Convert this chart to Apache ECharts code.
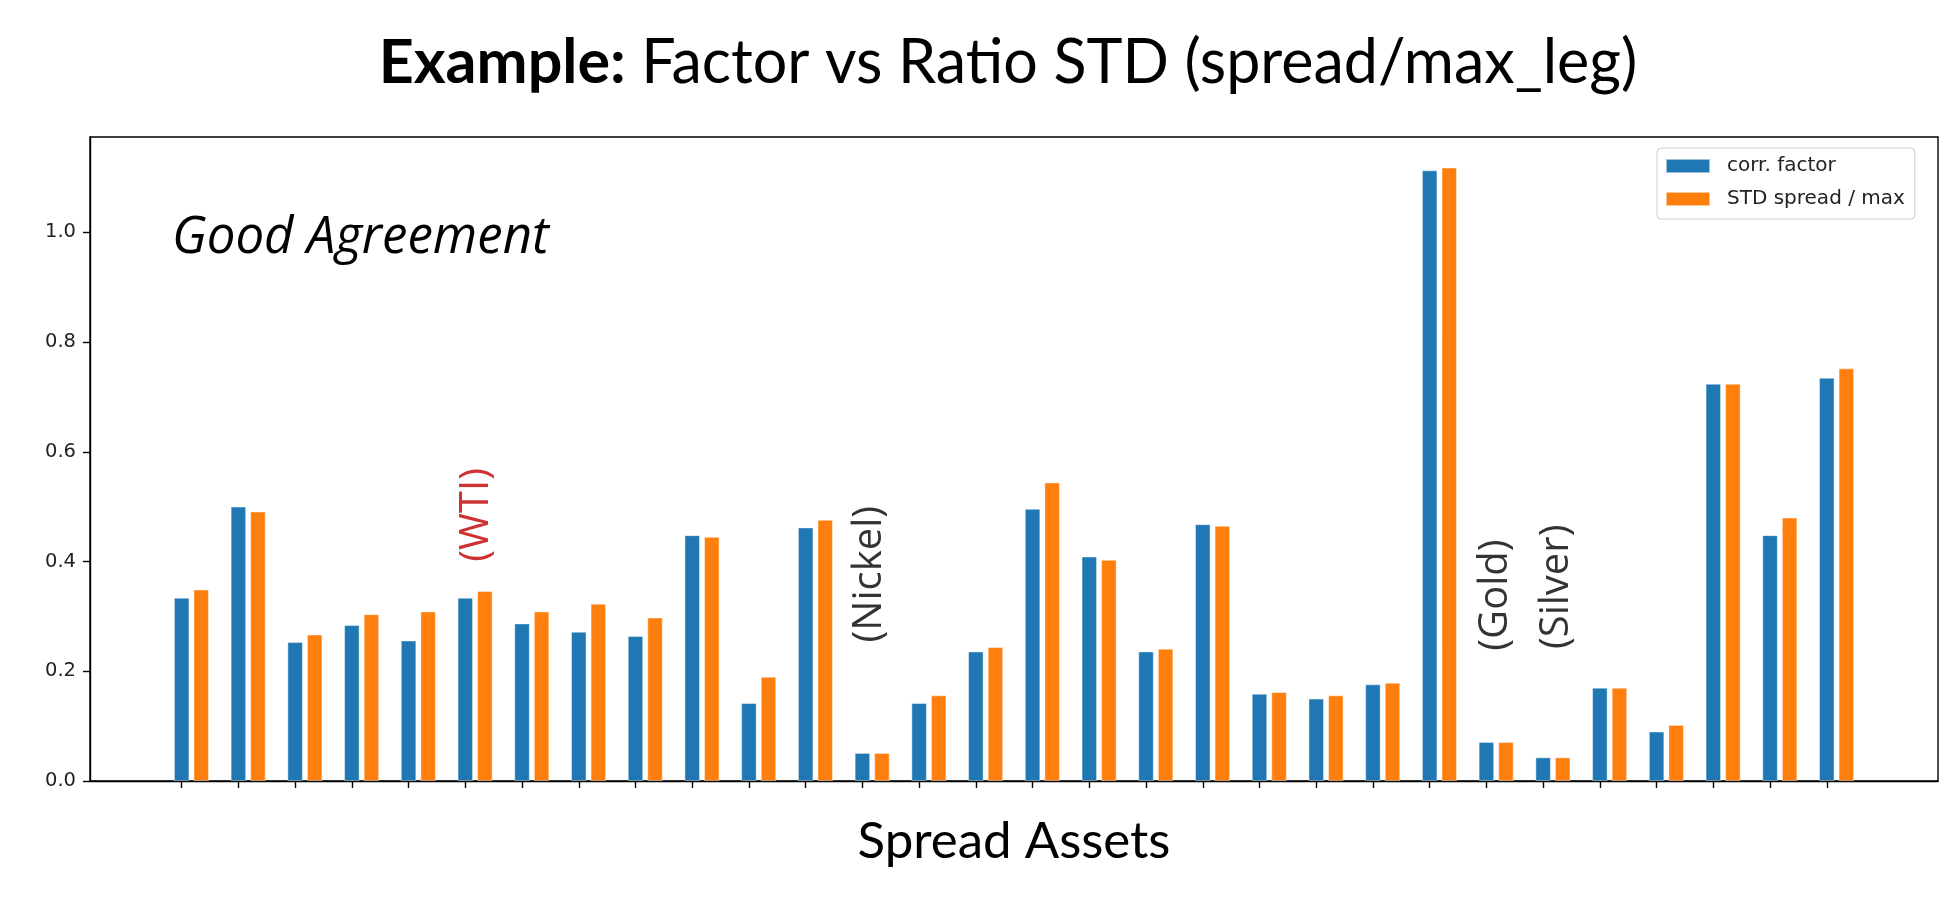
<!DOCTYPE html>
<html>
<head>
<meta charset="utf-8">
<script src="https://cdn.jsdelivr.net/npm/echarts@6/dist/echarts.min.js"></script>
<style>
html,body{margin:0;padding:0;background:#fff;}
#c{width:1955px;height:903px;}
</style>
</head>
<body>
<div id="c"></div>
<script>
// ---- data ----
const seriesNames = ['corr. factor', 'STD spread / max'];
const corrFactor = [0.334, 0.500, 0.253, 0.284, 0.256, 0.334, 0.287, 0.272, 0.264, 0.448,
                    0.142, 0.462, 0.051, 0.142, 0.236, 0.496, 0.409, 0.236, 0.468, 0.159,
                    0.150, 0.176, 1.113, 0.071, 0.043, 0.170, 0.090, 0.724, 0.448, 0.735];
const stdSpread  = [0.349, 0.491, 0.267, 0.304, 0.309, 0.346, 0.309, 0.323, 0.298, 0.445,
                    0.190, 0.476, 0.051, 0.156, 0.244, 0.544, 0.403, 0.241, 0.465, 0.162,
                    0.156, 0.179, 1.118, 0.071, 0.043, 0.170, 0.102, 0.724, 0.480, 0.752];
const yTicks = [0, 0.2, 0.4, 0.6, 0.8, 1.0];
const notes = [
  {text: '(WTI)',    x: 5.2,   y: 0.485, color: '#c00000'},
  {text: '(Nickel)', x: 12.12, y: 0.377, color: '#000000'},
  {text: '(Gold)',   x: 23.16, y: 0.339, color: '#000000'},
  {text: '(Silver)', x: 24.23, y: 0.354, color: '#000000'}
];
const titleBold = 'Example:';
const titleRest = 'Factor vs Ratio STD (spread/max_leg)';
const xName = 'Spread Assets';
const insetText = 'Good Agreement';

// ---- layout helpers ----
const n = corrFactor.length;
const offset = 0.345;   // orange bar offset from blue bar (axis units)
const bw = 0.27;        // bar width (axis units), used for matplotlib-like margins
const dataLo = -bw / 2, dataHi = (n - 1) + offset + bw / 2;
const pad = 0.05 * (dataHi - dataLo);
const xMin = dataLo - pad, xMax = dataHi + pad;
const yMax = Math.max(...corrFactor, ...stdSpread) * 1.05;
const xTicks = corrFactor.map((_, i) => i);

const chart = echarts.init(document.getElementById('c'), null, {renderer: 'canvas'});
const gridLeft = 90, gridRight = 17, gridTop = 137, gridBottom = 122;
const plotW = 1955 - gridLeft - gridRight;
const barPx = plotW / (xMax - xMin) * bw;

const option = {
  animation: false,
  backgroundColor: '#ffffff',
  grid: {left: gridLeft, right: gridRight, top: gridTop, bottom: gridBottom,
         show: true, borderColor: '#000', borderWidth: 1.4, backgroundColor: 'transparent'},
  legend: {
    data: [{name: seriesNames[0], icon: 'rect'}, {name: seriesNames[1], icon: 'rect'}],
    orient: 'vertical', left: 1657, top: 148,
    itemWidth: 44, itemHeight: 14, itemGap: 13,
    padding: [8, 10, 10, 8],
    backgroundColor: '#fff', borderColor: '#cccccc', borderWidth: 1, borderRadius: 4,
    textStyle: {fontFamily: 'DejaVu Sans', fontSize: 20, color: '#222', lineHeight: 20, padding: [0, 0, 0, 12]}
  },
  xAxis: {
    type: 'value', min: xMin, max: xMax,
    splitLine: {show: false},
    axisLine: {show: true, onZero: false, lineStyle: {color: '#000', width: 1.4}},
    axisTick: {show: true, length: 7, customValues: xTicks, lineStyle: {color: '#000', width: 1.4}},
    axisLabel: {show: false}
  },
  yAxis: {
    type: 'value', min: 0, max: yMax,
    splitLine: {show: false},
    axisLine: {show: true, onZero: false, lineStyle: {color: '#000', width: 1.4}},
    axisTick: {show: true, length: 7, customValues: yTicks, lineStyle: {color: '#000', width: 1.4}},
    axisLabel: {show: true, customValues: yTicks, margin: 14,
                formatter: v => Number(v).toFixed(1),
                fontFamily: 'DejaVu Sans', fontSize: 19.5, color: '#222'}
  },
  series: [
    {
      name: seriesNames[0], type: 'bar', barWidth: barPx, barGap: '-100%',
      itemStyle: {color: '#1f77b4', borderColor: 'rgba(255,255,255,0.55)', borderWidth: 0.8},
      data: corrFactor.map((v, i) => [i, v])
    },
    {
      name: seriesNames[1], type: 'bar', barWidth: barPx, barGap: '-100%',
      itemStyle: {color: '#ff7f0e', borderColor: 'rgba(255,255,255,0.55)', borderWidth: 0.8},
      data: stdSpread.map((v, i) => [i + offset, v])
    },
    {
      name: 'notes', type: 'scatter', symbolSize: 1, silent: true,
      itemStyle: {color: 'rgba(0,0,0,0)'},
      data: notes.map(a => ({
        value: [a.x, a.y],
        label: {show: true, formatter: a.text, position: 'inside', rotate: 90,
                fontFamily: 'Open Sans', fontSize: 40, color: a.color}
      }))
    }
  ],
  graphic: [
    {type: 'text', x: 1008, y: 63, silent: true,
     style: {text: '{b|' + titleBold + '} ' + titleRest, align: 'center', verticalAlign: 'middle',
             fontFamily: 'Lato', fontSize: 61, fill: '#000',
             rich: {b: {fontFamily: 'Lato', fontSize: 61, fontWeight: 'bold', fill: '#000'}}}},
    {type: 'text', x: 1014, y: 842, silent: true,
     style: {text: xName, align: 'center', verticalAlign: 'middle',
             fontFamily: 'Lato', fontSize: 51, fill: '#000'}},
    {type: 'text', x: 172, y: 238, silent: true,
     style: {text: insetText, align: 'left', verticalAlign: 'middle',
             fontFamily: 'Open Sans', fontStyle: 'italic', fontSize: 51, fill: '#000'}}
  ]
};
chart.setOption(option);
</script>
</body>
</html>
